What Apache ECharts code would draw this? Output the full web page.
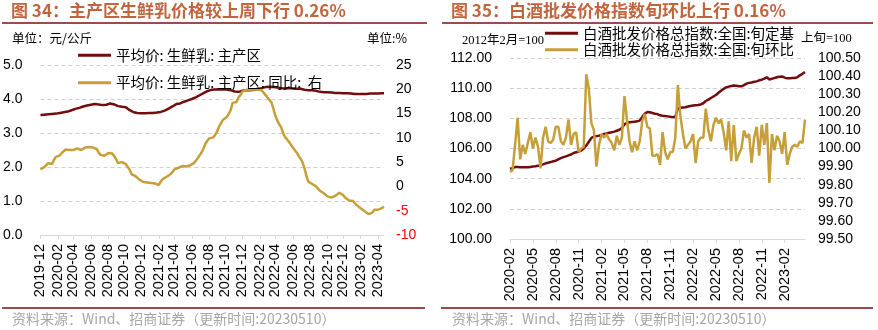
<!DOCTYPE html>
<html><head><meta charset="utf-8">
<script src="https://cdn.jsdelivr.net/npm/echarts@6/dist/echarts.min.js"></script>
<style>html,body{margin:0;padding:0;background:#fff}#c{width:878px;height:330px}</style>
</head><body><div id="c"></div><script>
// ---------- data ----------
const milkStart = '2019-12-06'; // weekly, Fridays
const milkPrice = [3.53,3.53,3.54,3.54,3.55,3.56,3.56,3.57,3.57,3.58,
3.59,3.60,3.61,3.62,3.63,3.65,3.67,3.69,3.71,3.73,
3.74,3.76,3.78,3.79,3.81,3.82,3.83,3.84,3.85,3.85,
3.84,3.82,3.82,3.83,3.83,3.86,3.87,3.85,3.84,3.81,
3.79,3.78,3.77,3.77,3.76,3.72,3.67,3.63,3.61,3.60,
3.59,3.58,3.58,3.58,3.58,3.58,3.59,3.59,3.59,3.60,
3.60,3.60,3.62,3.64,3.66,3.69,3.72,3.75,3.78,3.82,
3.85,3.86,3.87,3.89,3.92,3.94,3.96,3.98,4.00,4.03,
4.05,4.08,4.11,4.14,4.17,4.20,4.23,4.25,4.27,4.28,
4.28,4.29,4.29,4.29,4.28,4.28,4.28,4.27,4.26,4.24,
4.22,4.21,4.21,4.22,4.24,4.26,4.26,4.26,4.26,4.27,
4.27,4.28,4.30,4.31,4.32,4.34,4.35,4.36,4.36,4.35,
4.35,4.34,4.34,4.33,4.32,4.31,4.30,4.31,4.32,4.32,
4.31,4.31,4.30,4.31,4.30,4.28,4.27,4.26,4.26,4.26,
4.26,4.25,4.24,4.22,4.21,4.21,4.20,4.20,4.20,4.19,
4.19,4.19,4.18,4.18,4.18,4.18,4.17,4.17,4.17,4.16,
4.16,4.16,4.15,4.15,4.15,4.15,4.15,4.15,4.15,4.15,
4.16,4.16,4.16,4.16,4.16,4.16,4.17,4.17];
const milkYoY = [3.5,3.8,4.0,4.3,4.8,4.7,4.6,5.5,6.1,6.3,
6.4,6.9,7.2,7.6,7.7,7.5,7.6,7.5,7.7,7.85,
7.6,7.5,7.8,8.0,8.05,8.1,8.2,8.0,8.1,7.7,
7.0,6.5,6.4,6.3,6.3,6.9,7.2,6.8,6.2,5.6,
4.8,4.5,5.0,5.1,4.6,4.4,3.4,2.5,2.3,2.1,
1.8,1.4,1.1,0.9,0.9,0.8,0.9,0.7,0.6,0.6,
0.5,0.3,1.0,1.5,1.8,2.0,2.2,2.5,3.0,3.5,
3.7,3.8,4.0,4.2,4.2,4.1,4.0,4.3,4.6,4.8,
5.3,5.8,6.0,7.0,7.8,8.8,9.4,9.9,10.3,10.1,
10.6,11.3,12.3,11.9,13.7,13.6,14.3,14.9,15.7,17.2,
17.6,17.4,18.3,18.8,19.5,19.8,19.9,20.0,19.9,20.0,
20.0,20.0,19.9,20.0,19.8,19.5,18.8,18.3,17.8,17.3,
16.0,14.6,13.6,12.8,12.2,11.0,10.2,9.7,9.2,8.6,
8.0,7.6,7.0,6.3,5.7,5.0,3.8,2.2,1.0,0.8,
0.5,0.2,0.0,-0.4,-0.9,-1.1,-1.4,-1.8,-2.1,-2.4,
-2.3,-2.1,-1.9,-1.5,-1.3,-1.4,-1.8,-2.3,-2.6,-2.9,
-3.0,-3.0,-3.4,-3.9,-4.2,-4.5,-4.8,-5.1,-5.5,-5.7,
-5.7,-5.4,-4.8,-4.7,-4.8,-4.5,-4.4,-4.2];

const baijiuStart = [2020, 2]; // dekads (旬) from 2020-02 上旬
const baijiuIndex = [104.66,104.70,104.77,104.77,104.76,104.75,104.75,104.76,104.78,104.80,
104.82,104.85,104.90,104.95,105.02,105.06,105.10,105.15,105.19,105.28,
105.36,105.43,105.48,105.54,105.60,105.70,105.75,105.80,105.86,106.00,
106.20,106.45,106.70,106.78,106.82,106.85,106.90,106.97,107.00,107.05,
107.08,107.12,107.18,107.24,107.35,107.60,107.70,107.74,107.76,107.78,
107.80,107.85,108.10,108.30,108.42,108.40,108.35,108.30,108.28,108.20,
108.17,108.15,108.13,108.10,108.08,108.10,108.65,108.70,108.72,108.73,
108.78,108.82,108.85,108.87,108.88,108.92,109.00,109.15,109.24,109.35,
109.45,109.55,109.70,109.83,109.95,110.05,110.10,110.14,110.17,110.16,
110.13,110.12,110.20,110.30,110.35,110.38,110.42,110.45,110.52,110.56,
110.63,110.72,110.58,110.62,110.68,110.72,110.75,110.78,110.70,110.65,
110.66,110.67,110.67,110.72,110.85,110.95,111.07];
const baijiuMoM = [99.87,99.88,100.02,100.17,99.94,100.02,99.97,100.03,100.09,100.00,
100.06,100.01,99.89,100.06,100.12,100.04,100.03,100.05,100.12,100.12,
100.04,100.02,100.06,100.16,100.02,100.08,100.09,99.98,100.00,100.01,
100.41,100.33,100.14,100.10,99.90,100.02,100.08,100.06,100.08,100.05,
100.03,99.99,100.07,100.02,100.06,100.29,100.16,100.04,99.98,100.04,
99.99,100.04,100.15,100.19,100.12,100.11,99.96,99.96,99.97,99.91,
100.09,99.98,99.94,99.98,99.98,100.06,100.35,100.18,100.08,100.00,
100.02,100.04,100.08,99.92,100.04,100.06,100.06,100.22,100.10,100.04,
100.13,100.17,100.14,100.16,100.09,99.99,100.15,99.93,100.13,99.93,
99.97,100.00,100.10,100.06,100.08,99.92,100.06,100.12,99.96,100.13,
100.02,100.14,99.81,100.08,99.99,100.07,100.04,99.97,100.09,99.91,
99.97,100.01,100.02,100.01,100.04,100.03,100.16];

const milkNames = ['平均价: 生鲜乳: 主产区', '平均价: 生鲜乳: 主产区: 同比:  右'];
const baijiuNames = ['白酒批发价格总指数:全国:旬定基', '白酒批发价格总指数:全国:旬环比'];
const milkLeftTicks = {min: 0, max: 5, interval: 1};
const milkRightTicks = {min: -10, max: 25, interval: 5};
const baijiuLeftTicks = {min: 100, max: 112, interval: 2};
const baijiuRightTicks = {min: 99.5, max: 100.5, interval: 0.1};
const milkLabelMonths = [2, 4, 6, 8, 10, 12];
const baijiuLabelMonths = [2, 5, 8, 11];

// ---------- categories ----------
const milkDates = [];
(function () {
  const t0 = Date.parse(milkStart + 'T00:00:00Z');
  for (let i = 0; i < milkPrice.length; i++) milkDates.push(new Date(t0 + i * 7 * 864e5).toISOString().slice(0, 10));
})();
const baijiuDates = [];
(function () {
  let y = baijiuStart[0], m = baijiuStart[1];
  while (baijiuDates.length < baijiuIndex.length) {
    const last = new Date(Date.UTC(y, m, 0)).getUTCDate();
    for (const d of [10, 20, last]) if (baijiuDates.length < baijiuIndex.length)
      baijiuDates.push(y + '-' + String(m).padStart(2, '0') + '-' + String(d).padStart(2, '0'));
    m++; if (m > 12) { m = 1; y++; }
  }
})();
const milkShow = (i, v) => { const m = +v.slice(5, 7), d = +v.slice(8, 10); return d <= 7 && milkLabelMonths.includes(m); };
const baijiuShow = (i, v) => { const m = +v.slice(5, 7), d = +v.slice(8, 10); return d === 10 && baijiuLabelMonths.includes(m); };

// ---------- styles ----------
const RED = '#730c0c', GOLD = '#c69f38', TITLE = '#c2653f', RULE = '#7a1010';
const CJK = '"Noto Sans CJK SC", sans-serif';
const NUM = '"Liberation Sans", Arial, sans-serif';
const gridLine = {show: true, lineStyle: {color: '#cfcfcf', type: [4, 3], width: 1}};

function xAxis(gridIndex, data, show) {
  return {
    type: 'category', gridIndex, data, boundaryGap: false,
    axisLine: {lineStyle: {color: '#d9d9d9'}},
    axisTick: {interval: show, length: 4, lineStyle: {color: '#d9d9d9'}},
    axisLabel: {interval: show, rotate: 90, margin: 9, fontSize: 14.5, fontFamily: NUM, color: '#000',
      formatter: v => v.slice(0, 7)},
    splitLine: {show: false}
  };
}
function yAxis(gridIndex, t, pos, digits, split, colorFn, margin) {
  return {
    type: 'value', gridIndex, position: pos, min: t.min, max: t.max, interval: t.interval,
    axisLine: {show: false}, axisTick: {show: false},
    axisLabel: {fontSize: 14, fontFamily: NUM, color: colorFn || '#000', margin,
      formatter: v => (+v).toFixed(digits)},
    splitLine: split ? gridLine : {show: false}
  };
}

const chart = echarts.init(document.getElementById('c'), null, {renderer: 'canvas'});
chart.setOption({
  animation: false,
  backgroundColor: '#fff',
  grid: [
    {left: 40, top: 65, width: 344, height: 170},
    {left: 510, top: 58, width: 295, height: 181}
  ],
  xAxis: [xAxis(0, milkDates, milkShow), xAxis(1, baijiuDates, baijiuShow)],
  yAxis: [
    yAxis(0, milkLeftTicks, 'left', 1, true, null, 18),
    yAxis(0, milkRightTicks, 'right', 0, false, v => (v < 0 ? '#ff0000' : '#000'), 12),
    yAxis(1, baijiuLeftTicks, 'left', 2, true, null, 18),
    yAxis(1, baijiuRightTicks, 'right', 2, false, null, 13)
  ],
  legend: [
    {data: milkNames, orient: 'vertical', left: 78, top: 48, padding: 0, itemWidth: 33, itemHeight: 3, itemGap: 13,
      icon: 'rect', textStyle: {fontSize: 14.5, fontFamily: CJK, color: '#000'}, selectedMode: false},
    {data: baijiuNames, orient: 'vertical', left: 545, top: 26, padding: 0, itemWidth: 33, itemHeight: 3, itemGap: 2,
      icon: 'rect', textStyle: {fontSize: 14.5, fontFamily: CJK, color: '#000'}, selectedMode: false}
  ],
  series: [
    {name: milkNames[0], type: 'line', xAxisIndex: 0, yAxisIndex: 0, data: milkPrice, showSymbol: false,
      lineStyle: {color: RED, width: 2.5}, itemStyle: {color: RED}},
    {name: milkNames[1], type: 'line', xAxisIndex: 0, yAxisIndex: 1, data: milkYoY, showSymbol: false,
      lineStyle: {color: GOLD, width: 2.5}, itemStyle: {color: GOLD}},
    {name: baijiuNames[0], type: 'line', xAxisIndex: 1, yAxisIndex: 2, data: baijiuIndex, showSymbol: false,
      lineStyle: {color: RED, width: 2.5}, itemStyle: {color: RED}},
    {name: baijiuNames[1], type: 'line', xAxisIndex: 1, yAxisIndex: 3, data: baijiuMoM, showSymbol: false,
      lineStyle: {color: GOLD, width: 2.5}, itemStyle: {color: GOLD}}
  ],
  graphic: [
    {type: 'text', left: 11, top: 2, style: {text: '图 34：主产区生鲜乳价格较上周下行 0.26%', font: 'bold 17px ' + CJK, fill: TITLE}},
    {type: 'text', left: 451, top: 2, style: {text: '图 35：白酒批发价格指数旬环比上行 0.16%', font: 'bold 17px ' + CJK, fill: TITLE}},
    {type: 'line', shape: {x1: 2, y1: 23, x2: 427, y2: 23}, style: {stroke: RULE, lineWidth: 1.5}},
    {type: 'line', shape: {x1: 442, y1: 23, x2: 873, y2: 23}, style: {stroke: RULE, lineWidth: 1.5}},
    {type: 'text', left: 12, top: 32, style: {text: '单位：元/公斤', font: '12.5px ' + CJK, fill: '#000'}},
    {type: 'text', left: 367, top: 32, style: {text: '单位:%', font: '12.5px ' + CJK, fill: '#000'}},
    {type: 'text', left: 462, top: 34, style: {text: '2012年2月=100', font: '12.5px "Liberation Serif", ' + CJK, fill: '#000'}},
    {type: 'text', left: 801, top: 32, style: {text: '上旬=100', font: '12.5px "Liberation Serif", ' + CJK, fill: '#000'}},
    {type: 'line', shape: {x1: 2, y1: 308, x2: 425, y2: 308}, style: {stroke: RULE, lineWidth: 1.5}},
    {type: 'line', shape: {x1: 441, y1: 308, x2: 873, y2: 308}, style: {stroke: RULE, lineWidth: 1.5}},
    {type: 'text', left: 12, top: 312, style: {text: '资料来源：Wind、招商证券（更新时间:20230510）', font: '14px ' + CJK, fill: '#a6a6a6'}},
    {type: 'text', left: 452, top: 312, style: {text: '资料来源：Wind、招商证券（更新时间:20230510）', font: '14px ' + CJK, fill: '#a6a6a6'}}
  ]
});
</script></body></html>
